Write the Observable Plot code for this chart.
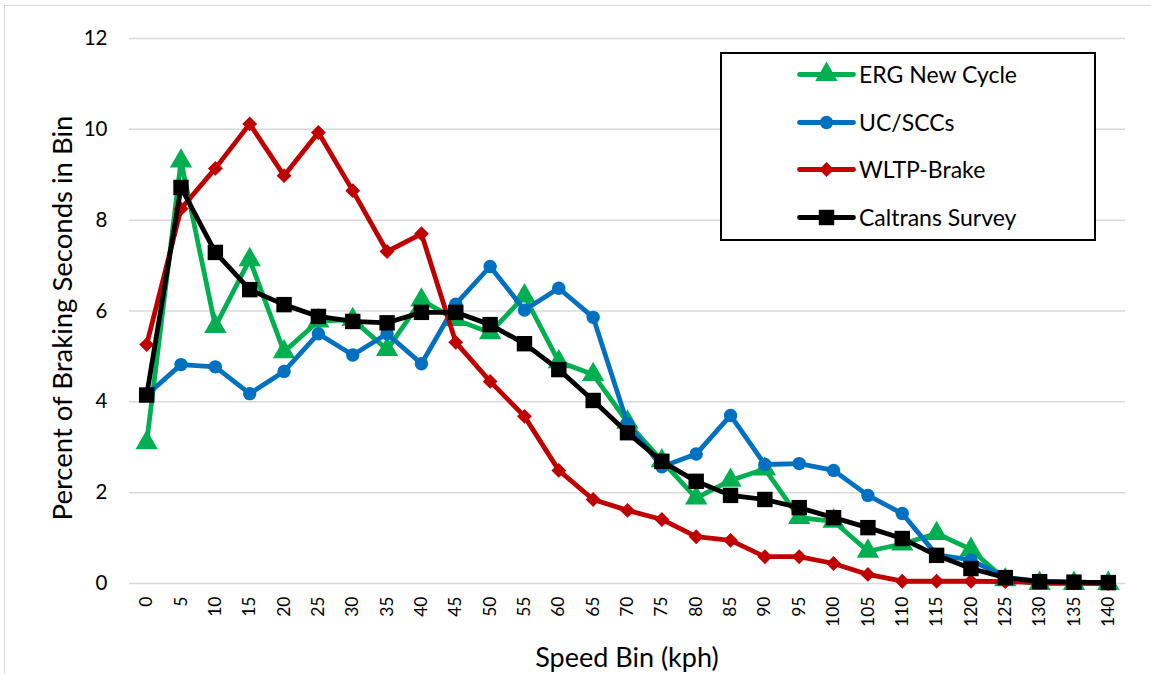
<!DOCTYPE html>
<html>
<head>
<meta charset="utf-8">
<script src="https://cdn.jsdelivr.net/npm/d3@7"></script>
<script src="https://cdn.jsdelivr.net/npm/@observablehq/plot@0.6"></script>
<style>
  html, body { margin: 0; padding: 0; background: #fff; }
  #wrap { position: relative; width: 1151px; height: 674px; overflow: hidden; font-family: Lato, "Open Sans", sans-serif; color: #000; }
  #frame { position: absolute; left: 4px; top: 5px; width: 1300px; height: 800px; border-left: 1.5px solid #d9d9d9; border-top: 1.5px solid #d9d9d9; }
  #chart { position: absolute; left: 0; top: 0; }
  .ytitle { position: absolute; left: 61px; top: 318px; transform: translate(-50%, -50%) rotate(-90deg); white-space: nowrap; font-size: 27.5px; }
  .xtitle { position: absolute; left: 627px; top: 656px; transform: translate(-50%, -50%); white-space: nowrap; font-size: 27px; }
  #legend { position: absolute; left: 720px; top: 52px; width: 372px; height: 185px; border: 2px solid #000; background: #fff; }
  .lrow { position: absolute; left: 75px; height: 30px; display: flex; align-items: center; font-size: 23px; white-space: nowrap; }
  .lrow svg { margin-right: 4px; }
</style>
</head>
<body>
<div id="wrap">
  <div id="frame"></div>
  <div id="chart"></div>
  <div class="ytitle">Percent of Braking Seconds in Bin</div>
  <div class="xtitle">Speed Bin (kph)</div>
  <div id="legend"></div>
</div>
<script>
// Speed bins (kph)
const speeds = [0,5,10,15,20,25,30,35,40,45,50,55,60,65,70,75,80,85,90,95,100,105,110,115,120,125,130,135,140];
// Y tick labels
const yTicks = [0,2,4,6,8,10,12];

// Series values (percent of braking seconds in bin)
const ergNewCycle = [3.10,9.30,5.66,7.13,5.10,5.78,5.81,5.15,6.24,5.81,5.52,6.33,4.88,4.60,3.55,2.70,1.88,2.27,2.52,1.45,1.37,0.71,0.87,1.10,0.75,0.08,0.00,0.00,0.00];
const ucSccs      = [4.15,4.82,4.77,4.18,4.67,5.50,5.03,5.50,4.84,6.15,6.98,6.02,6.50,5.86,3.52,2.57,2.85,3.70,2.62,2.64,2.49,1.94,1.54,0.63,0.52,0.13,0.05,0.03,0.02];
const wltpBrake   = [5.26,8.25,9.14,10.12,8.98,9.93,8.65,7.31,7.70,5.31,4.45,3.68,2.49,1.85,1.61,1.41,1.03,0.95,0.59,0.59,0.44,0.20,0.05,0.05,0.05,0.04,0.02,0.01,0.00];
const caltrans    = [4.15,8.72,7.29,6.47,6.14,5.88,5.77,5.74,5.97,5.97,5.70,5.28,4.71,4.03,3.32,2.69,2.25,1.94,1.85,1.67,1.45,1.23,0.99,0.62,0.33,0.13,0.04,0.03,0.02];

const seriesNames = ["ERG New Cycle", "UC/SCCs", "WLTP-Brake", "Caltrans Survey"];
const seriesValues = [ergNewCycle, ucSccs, wltpBrake, caltrans];
const seriesColors = ["#00B050", "#0070C0", "#C00000", "#000000"];
const seriesSymbols = ["triangle", "circle", "diamond2", "square"];
const seriesR = [8.3, 6.7, 6.7, 8.7];

const rows = [];
seriesNames.forEach((name, k) => {
  speeds.forEach((s, i) => rows.push({series: name, speed: s, value: seriesValues[k][i]}));
});

const marks = [
  Plot.ruleY(yTicks, {stroke: "#d9d9d9", strokeWidth: 1.5}),
  Plot.axisY({ticks: yTicks, tickSize: 0, tickPadding: 22, fontSize: 20.5, label: null}),
  Plot.axisX({ticks: speeds, tickFormat: d => String(d), tickRotate: -90, tickSize: 0, tickPadding: 13, fontSize: 17.5, label: null})
];
seriesNames.forEach((name, k) => {
  const data = rows.filter(d => d.series === name);
  marks.push(Plot.line(data, {x: "speed", y: "value", stroke: seriesColors[k], strokeWidth: 4.8, strokeLinejoin: "round"}));
  marks.push(Plot.dot(data, {x: "speed", y: "value", symbol: seriesSymbols[k], r: seriesR[k], fill: seriesColors[k], stroke: "none"}));
});

const chart = Plot.plot({
  width: 1151,
  height: 674,
  marginLeft: 129,
  marginRight: 26,
  marginTop: 38,
  marginBottom: 91,
  style: {fontFamily: "Lato, 'Open Sans', sans-serif", color: "#000", background: "transparent", overflow: "visible"},
  x: {type: "linear", domain: [-2.5, 142.5]},
  y: {type: "linear", domain: [0, 12]},
  marks
});
document.getElementById("chart").appendChild(chart);

// Legend
const legend = document.getElementById("legend");
const rowTops = [5, 53, 100, 148];
seriesNames.forEach((name, k) => {
  const row = document.createElement("div");
  row.className = "lrow";
  row.style.top = rowTops[k] + "px";
  const sw = Plot.plot({
    width: 58, height: 30, margin: 0,
    x: {domain: [0, 1], range: [2, 56], axis: null},
    y: {domain: [0, 1], range: [30, 0], axis: null},
    style: {background: "transparent", overflow: "visible"},
    marks: [
      Plot.line([{x: 0, y: 0.5}, {x: 1, y: 0.5}], {x: "x", y: "y", stroke: seriesColors[k], strokeWidth: 4.8, strokeLinecap: "round"}),
      Plot.dot([{x: 0.5, y: 0.5}], {x: "x", y: "y", symbol: seriesSymbols[k], r: seriesR[k], fill: seriesColors[k], stroke: "none"})
    ]
  });
  row.appendChild(sw);
  const t = document.createElement("span");
  t.textContent = name;
  row.appendChild(t);
  legend.appendChild(row);
});
</script>
</body>
</html>
